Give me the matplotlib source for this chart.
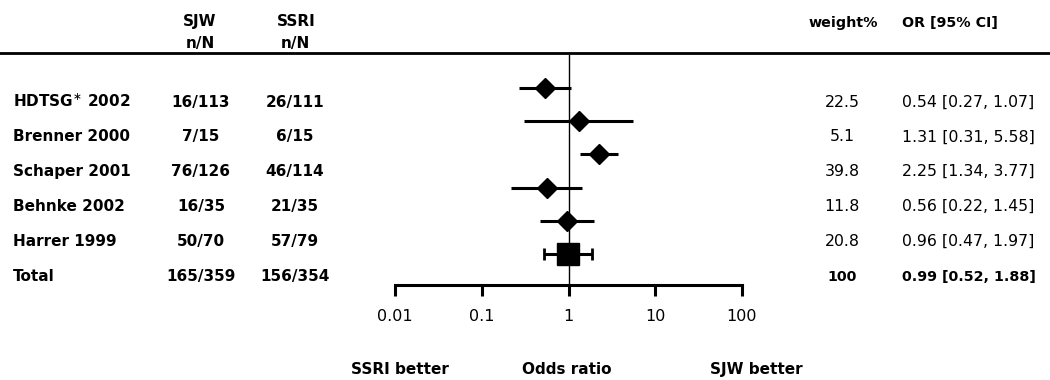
import matplotlib
matplotlib.use("Agg")
import matplotlib.pyplot as plt
from matplotlib.lines import Line2D

# ---------------- data ----------------
studies = ["HDTSG$^{\\ast}$ 2002", "Brenner 2000", "Schaper 2001", "Behnke 2002", "Harrer 1999"]
total_label = "Total"
sjw_nN = ["16/113", "7/15", "76/126", "16/35", "50/70"]
ssri_nN = ["26/111", "6/15", "46/114", "21/35", "57/79"]
sjw_total = "165/359"
ssri_total = "156/354"
weights = ["22.5", "5.1", "39.8", "11.8", "20.8"]
weight_total = "100"
odds = [0.54, 1.31, 2.25, 0.56, 0.96]
ci_low = [0.27, 0.31, 1.34, 0.22, 0.47]
ci_high = [1.07, 5.58, 3.77, 1.45, 1.97]
total_or = 0.99
total_low = 0.52
total_high = 1.88
xticks = [0.01, 0.1, 1, 10, 100]
xticklabels = ["0.01", "0.1", "1", "10", "100"]

plt.rcParams['font.family'] = ['DejaVu Sans']
W, H = 1050, 380
fig = plt.figure(figsize=(W / 100, H / 100), dpi=100)


def fx(px):
    return px / W


def fy(py):
    return 1 - py / H


# ---------------- forest axes ----------------
ax_top, ax_bot = 55, 285
ax = fig.add_axes([fx(395), fy(ax_bot), fx(742 - 395), (ax_bot - ax_top) / H])
row0, dy = 88, 33.2
ax.set_xscale('log')
ax.set_xlim(0.01, 100)
ax.set_ylim((ax_bot - row0) / dy, (ax_top - row0) / dy)

n = len(odds)
ys = list(range(n))
ax.hlines(ys, ci_low, ci_high, color='black', lw=2.2)
ax.plot(odds, ys, 'D', ms=10, color='black', mec='black')
ax.errorbar([total_or], [n], xerr=[[total_or - total_low], [total_high - total_or]],
            fmt='s', ms=16, color='black', ecolor='black', elinewidth=2.2,
            capsize=4, capthick=2)
ax.axvline(1, color='black', lw=1)

for s in ['top', 'left', 'right']:
    ax.spines[s].set_visible(False)
ax.spines['bottom'].set_linewidth(2.2)
ax.set_yticks([])
ax.set_xticks(xticks)
ax.set_xticklabels(xticklabels)
ax.xaxis.set_minor_locator(matplotlib.ticker.NullLocator())
ax.tick_params(axis='x', direction='out', length=8, width=2.2, pad=9, labelsize=11.5)
ax.patch.set_alpha(0)

# ---------------- table text ----------------
fs = 11
base_off = 5.6          # px from visual centre to baseline
text_row0, text_dy = 101, 34.8

x_name, x_sjw, x_ssri, x_w, x_or = fx(13), fx(201), fx(295), fx(842), fx(902)


def put(x, ypx, s, ha, bold=True, size=fs):
    fig.text(x, fy(ypx + base_off), s, ha=ha, va='baseline', fontsize=size,
             fontweight='bold' if bold else 'normal')


for i in range(n):
    yy = text_row0 + text_dy * i
    put(x_name, yy, studies[i], 'left')
    put(x_sjw, yy, sjw_nN[i], 'center')
    put(x_ssri, yy, ssri_nN[i], 'center')
    put(x_w, yy, weights[i], 'center', bold=False, size=11.3)
    put(x_or, yy, f"{odds[i]:.2f} [{ci_low[i]:.2f}, {ci_high[i]:.2f}]", 'left',
        bold=False, size=11.3)

yy = text_row0 + text_dy * n
put(x_name, yy, total_label, 'left')
put(x_sjw, yy, sjw_total, 'center')
put(x_ssri, yy, ssri_total, 'center')
put(x_w, yy, weight_total, 'center', size=10.3)
put(x_or, yy, f"{total_or:.2f} [{total_low:.2f}, {total_high:.2f}]", 'left', size=10.3)

# headers
put(fx(200), 20, "SJW", 'center')
put(fx(200), 42, "n/N", 'center')
put(fx(296), 20, "SSRI", 'center')
put(fx(295), 42, "n/N", 'center')
put(fx(843), 21, "weight%", 'center', size=10.3)
put(fx(902), 21, "OR [95% CI]", 'left', size=10.3)

fig.add_artist(Line2D([0, 1], [fy(52.5), fy(52.5)], transform=fig.transFigure,
                      color='black', lw=2))

# bottom labels
put(fx(400), 368, "SSRI better", 'center')
put(fx(567), 368, "Odds ratio", 'center')
put(fx(756), 368, "SJW better", 'center')

fig.savefig("out.png", dpi=100, facecolor='white')
